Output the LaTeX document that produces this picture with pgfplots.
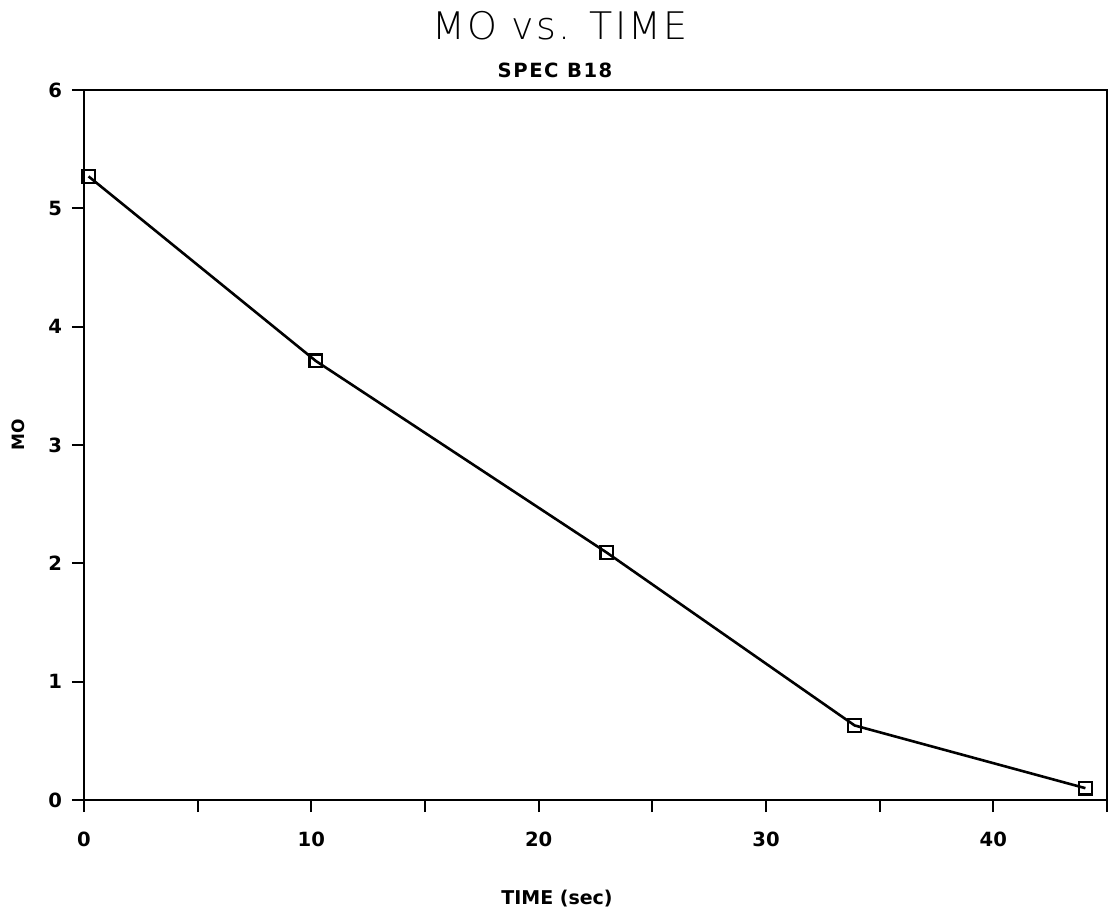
\documentclass[border=0pt]{standalone}
\usepackage{pgfplots}
\pgfplotsset{compat=1.18}
\usepackage{fontspec}
\setmainfont{DejaVu Sans}
\newfontfamily\titlefont[LetterSpace=6]{DejaVu Sans ExtraLight}
\newfontfamily\subfont[LetterSpace=8]{DejaVu Sans}
\begin{document}
\begin{tikzpicture}
\useasboundingbox (-42pt,-59pt) rectangle (514.5pt,400pt);
\begin{axis}[
  at={(0pt,0pt)}, anchor=origin,
  scale only axis,
  width=511.5pt, height=355pt,
  xmin=0, xmax=45, ymin=0, ymax=6,
  xtick={0,10,20,30,40},
  minor xtick={5,15,25,35,45},
  ytick={0,1,2,3,4,5,6},
  xtick pos=bottom, ytick pos=left,
  tick align=outside,
  major tick length=6pt, minor tick length=6pt,
  every tick/.style={black, line width=1.1pt},
  axis line style={line width=1.3pt},
  /pgf/number format/assume math mode=true,
  tick label style={font=\bfseries\fontsize{9.8}{11}\selectfont},
  xticklabel style={yshift=-6.5pt},
  yticklabel style={xshift=-1.5pt},
  clip=false,
]
\addplot[black, line width=1.3pt, mark=square, mark size=3.2pt, mark options={line width=1.1pt, solid}]
  coordinates {(0.2,5.27) (10.2,3.71) (23.0,2.09) (33.9,0.63) (44.05,0.10)};
\end{axis}
\node[font=\titlefont\fontsize{19}{22}\selectfont] at (238pt,387pt) {MO vs. TIME};
\node[font=\subfont\bfseries\fontsize{9.8}{11}\selectfont] at (235.5pt,365pt) {SPEC B18};
\node[font=\bfseries\fontsize{9.5}{11}\selectfont] at (236.5pt,-49.5pt) {TIME (sec)};
\node[font=\bfseries\fontsize{8.5}{10}\selectfont, rotate=90] at (-33pt,182.5pt) {MO};
\end{tikzpicture}
\end{document}
